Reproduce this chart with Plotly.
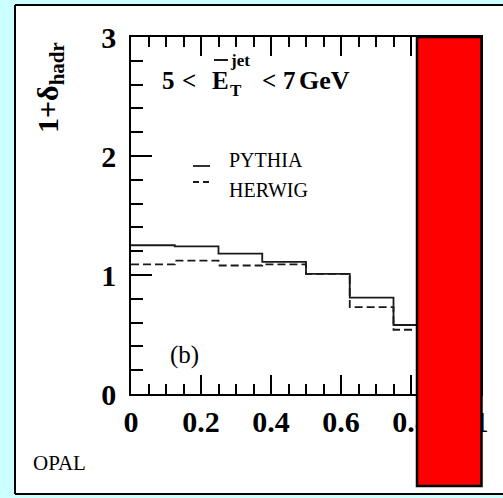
import plotly.graph_objects as go

# Hadronisation correction per bin, OPAL, 5 < E_T^jet < 7 GeV
bin_edges = [0.0, 0.125, 0.25, 0.375, 0.5, 0.625, 0.75, 0.875, 1.0]
pythia = [1.25, 1.24, 1.18, 1.11, 1.01, 0.81, 0.58, 0.45]
herwig = [1.09, 1.12, 1.08, 1.09, 1.01, 0.73, 0.54, 0.42]

x_ticks = [0, 0.2, 0.4, 0.6, 0.8, 1]
x_tick_text = ["0", "0.2", "0.4", "0.6", "0.8", "1"]
y_ticks = [0, 1, 2, 3]
y_tick_text = ["0", "1", "2", "3"]

W, H = 503, 498
L, R, T, B = 131, 22, 37, 104
PW, PH = W - L - R, H - T - B


def px(x):
    return (x - L) / PW


def py(y):
    return (H - B - y) / PH


SERIF = "Liberation Serif, Times New Roman, serif"
LINE = "#1a1a1a"

fig = go.Figure()
fig.add_trace(go.Scatter(x=bin_edges, y=pythia + [pythia[-1]], mode="lines",
                         line=dict(shape="hv", color=LINE, width=1.8),
                         showlegend=False, hoverinfo="skip"))
fig.add_trace(go.Scatter(x=bin_edges, y=herwig + [herwig[-1]], mode="lines",
                         line=dict(shape="hv", color=LINE, width=1.8, dash="8px,4px"),
                         showlegend=False, hoverinfo="skip"))

tickfont = dict(family=SERIF, size=30, color="black", weight="bold")
axis_common = dict(showline=True, linecolor="black", linewidth=1.5, mirror="ticks",
                   ticks="inside", tickcolor="black", tickwidth=1.5,
                   showgrid=False, zeroline=False, tickfont=tickfont)


def frame_line(x0, y0, x1, y1):
    return dict(type="line", xref="paper", yref="paper", x0=px(x0), x1=px(x1),
                y0=py(y0), y1=py(y1), line=dict(color="black", width=2), layer="below")


shapes = [
    # white panel, open on the right edge
    dict(type="rect", xref="paper", yref="paper", x0=px(15), x1=px(W + 20), y0=py(494), y1=py(5),
         fillcolor="white", line=dict(width=0), layer="below"),
    frame_line(15, 5, W + 20, 5),
    frame_line(15, 494, W + 20, 494),
    frame_line(15, 5, 15, 494),
    # white strip along the right edge of the panel
    dict(type="rect", xref="paper", yref="paper", x0=px(491), x1=px(W + 20), y0=py(493), y1=py(6),
         fillcolor="white", line=dict(width=0), layer="above"),
    # legend samples
    dict(type="line", xref="paper", yref="paper", x0=px(193), x1=px(210), y0=py(166), y1=py(166),
         line=dict(color=LINE, width=1.8)),
    dict(type="line", xref="paper", yref="paper", x0=px(193), x1=px(211), y0=py(182), y1=py(182),
         line=dict(color=LINE, width=1.8, dash="6px,4px")),
    # overline on E
    dict(type="line", xref="paper", yref="paper", x0=px(214), x1=px(228), y0=py(60), y1=py(60),
         line=dict(color="black", width=1.8)),
    # red block
    dict(type="rect", xref="paper", yref="paper", x0=px(417), x1=px(481.5), y0=py(486), y1=py(37),
         fillcolor="#ff0000", line=dict(color="black", width=2.5), layer="above"),
]


def ann(text, x, y, size, bold=False, xanchor="left", angle=0):
    return dict(text=text, xref="paper", yref="paper", x=px(x), y=py(y), showarrow=False,
                xanchor=xanchor, yanchor="middle", textangle=angle,
                font=dict(family=SERIF, size=size, color="black",
                          weight="bold" if bold else "normal"))


annotations = [
    ann("1+δ<sub>hadr</sub>", 50, 88, 30, bold=True, xanchor="center", angle=-90),
    ann("5", 160, 80, 25, bold=True),
    ann("<", 180, 80, 25, bold=True),
    ann("E", 210, 80, 25, bold=True),
    ann("jet", 228, 60, 17, bold=True),
    ann("T", 228, 90, 17, bold=True),
    ann("<", 260, 80, 25, bold=True),
    ann("7", 281, 80, 25, bold=True),
    ann("GeV", 297, 80, 26, bold=True),
    ann("PYTHIA", 227, 160, 20),
    ann("HERWIG", 227, 190, 20),
    ann("(b)", 168, 355, 25),
    ann("OPAL", 31, 463, 21),
]

fig.update_layout(
    width=W, height=H,
    margin=dict(l=L, r=R, t=T, b=B, pad=0),
    paper_bgcolor="#ccffff",
    plot_bgcolor="rgba(0,0,0,0)",
    xaxis=dict(range=[0, 1], tickvals=x_ticks, ticktext=x_tick_text, ticklen=19,
               minor=dict(dtick=0.05, tick0=0, ticklen=10, tickwidth=1.5, tickcolor="black",
                          ticks="inside"),
               ticklabelstandoff=0, **axis_common),
    yaxis=dict(range=[0, 3], tickvals=y_ticks, ticktext=y_tick_text, ticklen=21,
               minor=dict(dtick=0.2, tick0=0, ticklen=12, tickwidth=1.5, tickcolor="black",
                          ticks="inside"),
               ticklabelstandoff=7, **axis_common),
    shapes=shapes,
    annotations=annotations,
)

fig.write_html("out.html")
